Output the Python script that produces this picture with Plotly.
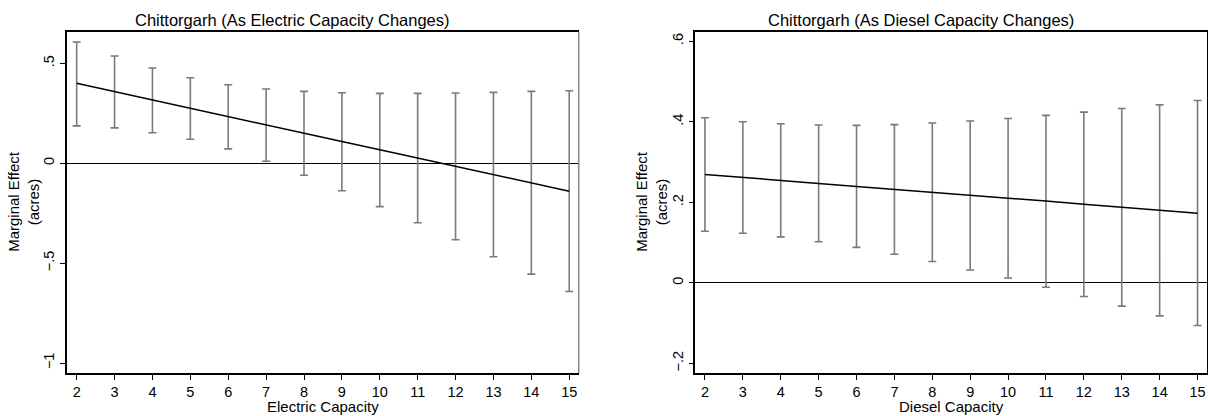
import plotly.graph_objects as go
from plotly.subplots import make_subplots

# ---- data ----
capacity = [2, 3, 4, 5, 6, 7, 8, 9, 10, 11, 12, 13, 14, 15]

elec_effect = [0.400, 0.358, 0.317, 0.275, 0.234, 0.192, 0.151, 0.109, 0.068, 0.026, -0.015, -0.057, -0.098, -0.140]
elec_upper = [0.607, 0.537, 0.477, 0.428, 0.393, 0.372, 0.360, 0.353, 0.350, 0.350, 0.352, 0.355, 0.360, 0.363]
elec_lower = [0.187, 0.177, 0.153, 0.120, 0.072, 0.010, -0.060, -0.138, -0.217, -0.298, -0.383, -0.468, -0.555, -0.642]

dies_effect = [0.269, 0.262, 0.254, 0.247, 0.239, 0.232, 0.225, 0.217, 0.210, 0.203, 0.195, 0.188, 0.181, 0.173]
dies_upper = [0.410, 0.400, 0.395, 0.392, 0.391, 0.393, 0.397, 0.402, 0.408, 0.416, 0.424, 0.433, 0.442, 0.453]
dies_lower = [0.128, 0.123, 0.114, 0.102, 0.088, 0.071, 0.053, 0.032, 0.012, -0.011, -0.034, -0.058, -0.082, -0.106]

elec_yticks = [-1, -0.5, 0, 0.5]
elec_yticklabels = ["\u22121", "\u2212.5", "0", ".5"]
dies_yticks = [-0.2, 0, 0.2, 0.4, 0.6]
dies_yticklabels = ["\u2212.2", "0", ".2", ".4", ".6"]

titles = ["Chittorgarh (As Electric Capacity Changes)", "Chittorgarh (As Diesel Capacity Changes)"]
xtitles = ["Electric Capacity", "Diesel Capacity"]
ytitle = "Marginal Effect<br>(acres)"

W, H = 1208, 416
FONT = "Liberation Sans, Arial, sans-serif"
GREY = "#7a7a7a"

fig = make_subplots(rows=1, cols=2)

panels = [
    (elec_effect, elec_upper, elec_lower, 1),
    (dies_effect, dies_upper, dies_lower, 2),
]
for eff, up, lo, col in panels:
    fig.add_trace(go.Scatter(
        x=capacity, y=eff, mode="markers",
        marker=dict(size=1, color="rgba(0,0,0,0)"),
        error_y=dict(type="data", symmetric=False,
                     array=[u - e for u, e in zip(up, eff)],
                     arrayminus=[e - l for e, l in zip(eff, lo)],
                     color=GREY, thickness=1.6, width=4),
        showlegend=False, hoverinfo="skip"), row=1, col=col)
    fig.add_trace(go.Scatter(
        x=capacity, y=eff, mode="lines",
        line=dict(color="black", width=1.5),
        showlegend=False), row=1, col=col)

dom1 = [67 / W, 578.7 / W]
dom2 = [695.3 / W, 1207 / W]
ydom = [0, 1]

common_x = dict(range=[1.745, 15.25], tickmode="array", tickvals=capacity,
                ticks="outside", ticklen=5, tickcolor="black", tickwidth=1.2,
                showline=True, linecolor="black", linewidth=1.6, mirror=True,
                showgrid=False, zeroline=False, automargin=False,
                tickfont=dict(family=FONT, size=14.5, color="black"))
common_y = dict(ticks="outside", ticklen=5, tickcolor="black", tickwidth=1.2,
                showline=True, linecolor="black", linewidth=1.6,
                showgrid=False, zeroline=True, zerolinecolor="black", zerolinewidth=1,
                tickangle=-90, automargin=False,
                tickfont=dict(family=FONT, size=14.5, color="black"))

fig.update_xaxes(domain=dom1, **common_x, row=1, col=1)
fig.update_xaxes(domain=dom2, **common_x, row=1, col=2)
fig.update_yaxes(domain=ydom, range=[-1.05, 0.657], tickmode="array", mirror=False,
                 tickvals=elec_yticks, ticktext=elec_yticklabels, **common_y, row=1, col=1)
fig.update_yaxes(domain=ydom, range=[-0.224, 0.623], tickmode="array", mirror=True,
                 tickvals=dies_yticks, ticktext=dies_yticklabels, **common_y, row=1, col=2)

# grey right-hand frame edge on the left panel
fig.add_shape(type="line", xref="x domain", yref="y domain", x0=1, x1=1, y0=0, y1=1,
              line=dict(color="#8a8a8a", width=1.6), row=1, col=1)

annotations = []
# panel titles
for cx, t in [(292.5, titles[0]), (921, titles[1])]:
    annotations.append(dict(x=cx / W, y=20, xref="paper", yref="paper", text=t,
                            showarrow=False, font=dict(family=FONT, size=16.5, color="black"),
                            xanchor="center", yanchor="middle"))
# x axis titles
for cx, t in [((dom1[0] + dom1[1]) / 2, xtitles[0]), ((dom2[0] + dom2[1]) / 2, xtitles[1])]:
    annotations.append(dict(x=cx, y=407, xref="paper", yref="paper", text=t,
                            showarrow=False, font=dict(family=FONT, size=15, color="black"),
                            xanchor="center", yanchor="middle"))
# y axis titles
for cx in [24, 652]:
    annotations.append(dict(x=cx / W, y=202, xref="paper", yref="paper", text=ytitle,
                            showarrow=False, textangle=-90,
                            font=dict(family=FONT, size=15, color="black"),
                            xanchor="center", yanchor="middle"))

# convert pixel y positions of annotations to paper coords
T, B = 32, 416 - 373.3
ph = H - T - B
for a in annotations:
    ypix = a["y"]
    a["y"] = (H - B - ypix) / ph

fig.update_layout(
    width=W, height=H,
    margin=dict(l=0, r=0, t=T, b=B, pad=0),
    paper_bgcolor="white", plot_bgcolor="white",
    font=dict(family=FONT, color="black"),
    annotations=annotations,
)

fig.write_html("out.html")
